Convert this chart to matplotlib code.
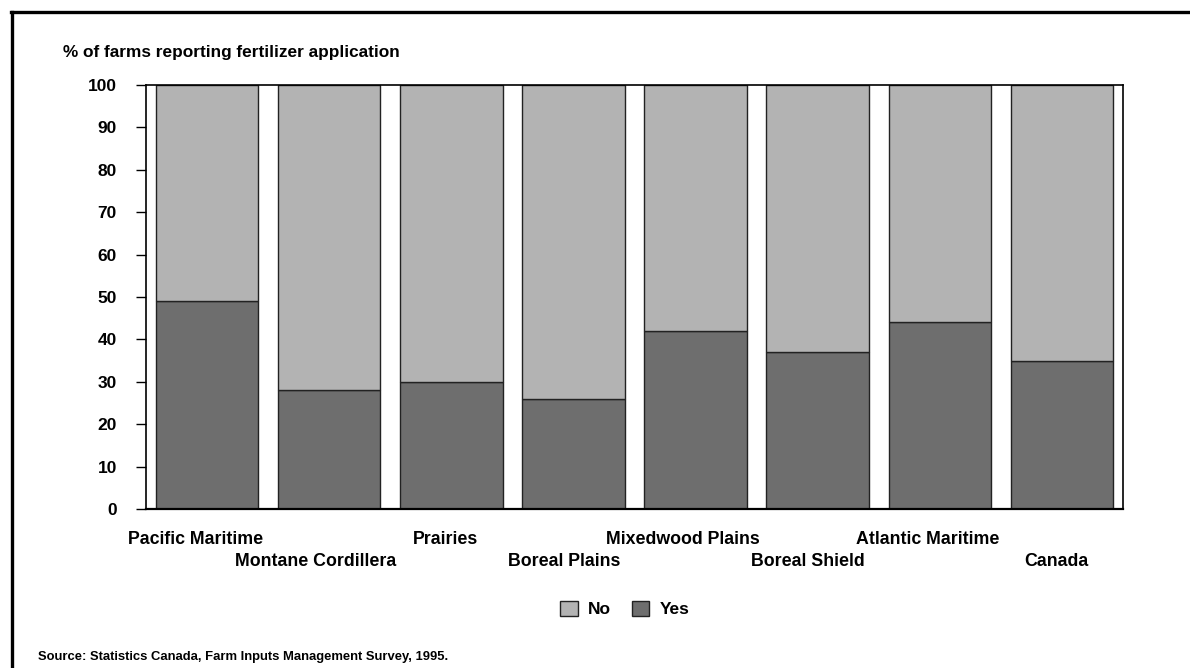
import matplotlib
matplotlib.use('Agg')
import matplotlib.pyplot as plt
import matplotlib.transforms as mtransforms
from matplotlib.lines import Line2D

plt.rcParams['font.family'] = ['Liberation Sans', 'DejaVu Sans']
plt.rcParams['font.weight'] = 'bold'

# Data
regions = ['Pacific Maritime', 'Montane Cordillera', 'Prairies', 'Boreal Plains',
           'Mixedwood Plains', 'Boreal Shield', 'Atlantic Maritime', 'Canada']
yes_pct = [49, 28, 30, 26, 42, 37, 44, 35]
no_pct = [100 - v for v in yes_pct]
y_ticks = [0, 10, 20, 30, 40, 50, 60, 70, 80, 90, 100]

no_color = '#b3b3b3'
yes_color = '#6e6e6e'

fig = plt.figure(figsize=(11.9, 6.68), dpi=100)
ax = fig.add_axes([146 / 1190, 1 - 509 / 668, (1123 - 146) / 1190, (509 - 85) / 668])

x = list(range(len(regions)))
ax.bar(x, yes_pct, width=0.84, color=yes_color, edgecolor='#222222', linewidth=1, label='Yes')
ax.bar(x, no_pct, width=0.84, bottom=yes_pct, color=no_color, edgecolor='#222222', linewidth=1, label='No')

ax.set_xlim(-0.5, len(regions) - 0.5)
ax.set_ylim(0, 100)
ax.set_yticks(y_ticks)
ax.tick_params(axis='y', direction='out', length=7, width=1, pad=14, labelsize=12.5)
ax.set_xticks([])

for s in ax.spines.values():
    s.set_linewidth(1.2)
ax.spines['bottom'].set_linewidth(1.6)

# category labels in two staggered rows
trans = mtransforms.blended_transform_factory(ax.transData, ax.transAxes)
row_y = [-31 / 424, -52 / 424]
cat_texts = []
for i, name in enumerate(regions):
    t = ax.text(i, row_y[i % 2], name, transform=trans, ha='center', va='center',
                fontsize=12.8, fontweight='bold')
    cat_texts.append(t)

# Y-axis title above the plot
fig.text(63 / 1190, 1 - 52 / 668, '% of farms reporting fertilizer application',
         fontsize=12.4, fontweight='bold', ha='left', va='center')

# Legend (No first, then Yes)
handles, labels = ax.get_legend_handles_labels()
fig.legend(handles[::-1], labels[::-1], loc='center', ncol=2, frameon=False,
           bbox_to_anchor=(625 / 1190, 1 - 609 / 668), fontsize=12.5,
           handlelength=1.0, handleheight=1.0, columnspacing=1.2, handletextpad=0.6)

fig.text(38 / 1190, 1 - 657 / 668, 'Source: Statistics Canada, Farm Inputs Management Survey, 1995.',
         fontsize=9.4, fontweight='bold', ha='left', va='center')

# Outer frame lines (top and left)
fig.add_artist(Line2D([11 / 1190, 1.0], [1 - 12 / 668, 1 - 12 / 668], color='black', linewidth=2.4,
                      transform=fig.transFigure))
fig.add_artist(Line2D([12 / 1190, 12 / 1190], [1 - 12 / 668, 0.0], color='black', linewidth=2.4,
                      transform=fig.transFigure))

# labels in the original sit a bit left of the bar centres
fig.canvas.draw()
for t in cat_texts:
    w = t.get_window_extent().width
    t.set_transform(trans + mtransforms.ScaledTranslation(-0.085 * w / fig.dpi, 0, fig.dpi_scale_trans))

fig.savefig('out.png', dpi=100)
